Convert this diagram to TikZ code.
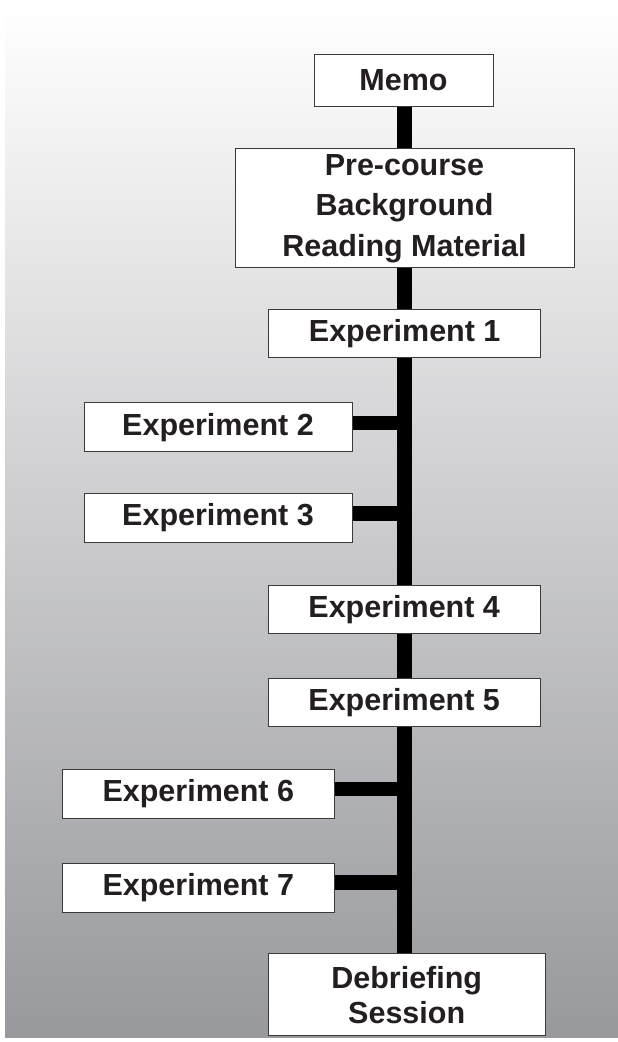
\documentclass[tikz,border=0pt]{standalone}
\usepackage{fontspec}
\setmainfont{Liberation Sans}
\usetikzlibrary{backgrounds}
\pgfdeclarelayer{bgshade}
\pgfsetlayers{bgshade,background,main}
\definecolor{bgtop}{RGB}{255,255,255}
\definecolor{bgbot}{RGB}{152,153,157}
\definecolor{boxline}{RGB}{58,58,58}
\definecolor{txt}{RGB}{35,31,32}
\tikzset{
  stepbox/.style={draw=boxline, line width=1pt, fill=white, inner sep=0pt,
    align=center, text=txt, font=\fontsize{30.5}{40.5}\selectfont\bfseries},
  trunkline/.style={line width=15pt, black},
  branchline/.style={line width=14.5pt, black}
}
\begin{document}
\begin{tikzpicture}[x=1pt,y=-1pt]
\useasboundingbox (0,0) rectangle (618,1042);
\begin{pgfonlayer}{bgshade}
\shade[top color=bgtop, bottom color=bgbot] (5,6) rectangle (618,1037);
\end{pgfonlayer}
% nodes
\node[stepbox, minimum width=179pt, minimum height=52pt] (memo) at (403.5,80) {Memo};
\node[stepbox, minimum width=339pt, minimum height=118.7pt] (pre) at (404.5,208.3) {Pre-course\\Background\\Reading Material};
\node[stepbox, minimum width=272pt, minimum height=47.7pt] (e1) at (404.7,333.8) {Experiment 1};
\node[stepbox, minimum width=268pt, minimum height=49.3pt] (e2) at (218,427.3) {Experiment 2};
\node[stepbox, minimum width=268pt, minimum height=49pt] (e3) at (218,518) {Experiment 3};
\node[stepbox, minimum width=271.7pt, minimum height=48.3pt] (e4) at (404.2,609.2) {Experiment 4};
\node[stepbox, minimum width=271.7pt, minimum height=48.3pt] (e5) at (404.2,702.5) {Experiment 5};
\node[stepbox, minimum width=272pt, minimum height=49pt] (e6) at (198.3,793.8) {Experiment 6};
\node[stepbox, minimum width=272pt, minimum height=49pt] (e7) at (198.3,887.8) {Experiment 7};
\node[stepbox, minimum width=276.7pt, minimum height=81.7pt, font=\fontsize{30.5}{35}\selectfont\bfseries] (deb) at (406.7,994.8) {Debriefing\\Session};
% trunk and branch points
\coordinate (T) at (404.3,0);
\coordinate (t2) at (404.3,423);
\coordinate (t3) at (404.3,513.3);
\coordinate (t6) at (404.3,789.2);
\coordinate (t7) at (404.3,882.5);
\begin{pgfonlayer}{background}
\draw[trunkline] (memo.south -| T) -- (deb.north -| T);
\draw[branchline] (t2) -- (t2 -| e2.east);
\draw[branchline] (t3) -- (t3 -| e3.east);
\draw[branchline] (t6) -- (t6 -| e6.east);
\draw[branchline] (t7) -- (t7 -| e7.east);
\end{pgfonlayer}
\end{tikzpicture}
\end{document}
